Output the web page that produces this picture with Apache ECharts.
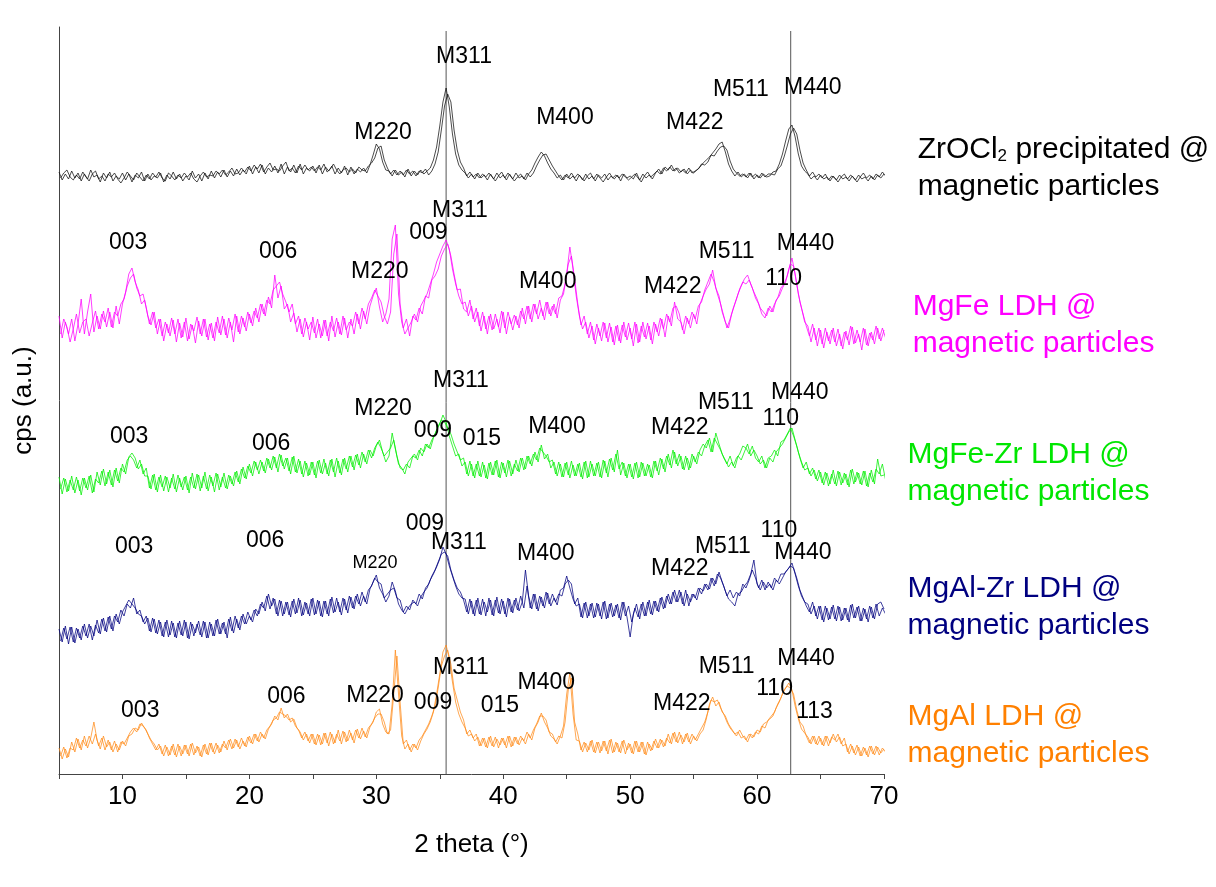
<!DOCTYPE html>
<html>
<head>
<meta charset="utf-8">
<script src="https://cdn.jsdelivr.net/npm/echarts@6/dist/echarts.min.js"></script>
<style>
html,body{margin:0;padding:0;background:#fff;}
#chart{width:1216px;height:887px;}
</style>
</head>
<body>
<div id="chart"></div>
<script>
// 2 theta grids: first scan 5 .. 70, second scan offset by half a step
const xStart = 5;
const xStartB = 5.125;
const xStep = 0.25;

// intensities (a.u., stacked offsets already included); two scans per sample
const zrocl2 = [
602,594,600,595, 603,596,601,593, 600,595,604,597, 599,592,601,596, 602,593,598,595,
601,594,600,592, 599,596,602,593, 600,594,598,596, 601,592,599,595, 602,595,600,593,
598,594,603,596, 600,593,601,595, 603,596,602,597, 604,597,603,598, 605,599,604,600,
608,600,607,601, 609,600,606,602, 608,601,610,600, 607,602,609,601, 610,600,606,603,
608,601,609,600, 607,603,608,600, 606,601,608,599, 607,600,605,602, 606,601,609,619,
630,625,612,604, 603,598,604,599, 602,597,605,598, 603,599,604,600, 603,606,614,627,
648,672,686,667, 640,620,609,604, 601,596,600,595, 601,596,599,594, 600,595,601,596,
599,594,600,595, 601,596,598,594, 600,604,611,617, 622,618,611,605, 601,596,599,594,
600,595,598,593, 599,594,600,595, 598,593,599,596, 600,594,598,595, 599,593,600,596,
598,595,601,594, 600,596,599,595, 601,605,600,607, 604,609,603,606, 602,605,600,604,
601,604,607,611, 614,617,621,625, 630,632,622,610, 603,598,602,597, 600,596,601,595,
599,596,600,597, 598,602,603,610, 620,633,645,649, 637,620,608,603, 600,595,598,594,
599,595,597,593, 598,594,599,595, 597,593,598,594, 599,595,597,593, 598,594,599,596,
600];
const zrocl2B = [
596,601,604,597, 594,599,595,602, 597,593,600,603, 595,598,593,600, 597,601,595,591,
596,602,598,594, 601,597,593,599, 595,601,597,602, 596,593,601,598, 594,599,596,601,
597,601,595,592, 598,602,597,599, 598,603,600,604, 599,602,606,600, 601,606,602,607,
603,609,605,610, 602,607,611,604, 605,603,608,612, 603,606,601,608, 604,609,604,607,
603,607,604,610, 602,605,610,604, 600,604,606,602, 605,601,607,604, 603,608,611,616,
626,628,614,606, 600,604,599,603, 599,604,600,603, 598,603,601,605, 599,603,610,622,
644,668,680,672, 644,624,612,606, 598,602,597,600, 596,600,597,601, 597,593,598,602,
596,601,597,593, 597,600,595,601, 597,601,608,614, 619,620,614,608, 603,598,594,599,
596,601,596,600, 597,593,598,601, 595,600,596,592, 597,601,596,599, 596,600,597,594,
597,600,596,592, 598,602,597,600, 603,600,606,603, 607,603,606,601, 604,601,606,601,
603,605,610,609, 612,619,618,623, 627,628,624,613, 605,601,598,600, 597,601,597,600,
596,601,597,600, 600,599,605,608, 617,628,640,646, 640,624,611,604, 598,602,597,600,
596,600,594,598, 596,592,597,600, 595,599,596,592, 597,601,596,599, 595,600,597,602,
598];

const mgfe = [
458,436,452,440, 455,433,450,475, 440,462,480,442, 458,445,463,447, 462,446,468,450,
470,482,500,506, 492,484,470,474, 458,449,462,440, 455,433,450,438, 454,432,451,437,
456,435,449,431, 453,438,455,434, 451,433,457,439, 455,436,452,432, 458,440,456,443,
460,448,466,452, 470,458,477,466, 499,476,488,465, 470,452,461,442, 455,437,452,434,
457,436,450,438, 454,433,458,437, 452,439,456,436, 455,440,460,445, 463,450,468,478,
486,467,452,460, 475,535,549,480, 452,440,446,452, 460,452,468,474, 480,490,500,512,
520,528,534,525, 505,490,478,470, 472,458,468,452, 462,443,458,440, 460,445,455,441,
462,440,457,444, 458,446,466,450, 468,452,470,455, 466,454,472,458, 470,456,474,480,
500,527,505,478, 458,445,452,436, 448,430,446,433, 451,432,447,429, 449,431,452,434,
446,428,450,432, 452,435,448,430, 450,438,455,437, 458,448,472,455, 452,440,456,446,
460,450,470,478, 485,490,504,486, 478,462,452,446, 460,470,480,488, 495,499,490,482,
475,466,462,458, 468,462,474,478, 486,492,505,516, 500,480,466,452, 448,432,446,428,
444,426,442,430, 446,428,440,425, 443,429,447,431, 440,424,445,428, 442,430,446,433,
444];
const mgfeB = [
440,455,447,432, 445,460,441,452, 455,438,451,463, 445,460,452,466, 447,462,458,470,
475,488,496,500, 486,478,480,466, 450,462,446,455, 438,452,441,456, 440,455,436,452,
433,450,443,457, 440,455,437,450, 436,452,441,458, 439,456,444,460, 442,458,447,462,
451,463,456,470, 460,474,470,484, 488,492,480,472, 462,470,450,458, 440,456,445,452,
441,455,436,454, 438,452,443,456, 440,458,444,452, 448,462,450,466, 455,470,476,484,
478,472,458,450, 462,520,540,470, 446,455,438,458, 454,466,460,478, 476,494,498,505,
518,525,530,518, 500,484,485,465, 462,474,455,466, 448,462,445,458, 444,460,447,463,
446,462,450,459, 449,463,455,468, 455,470,460,474, 458,472,460,468, 460,476,478,490,
510,518,495,470, 449,458,440,452, 434,450,438,452, 436,451,432,448, 433,449,437,451,
435,452,431,448, 437,451,434,452, 442,456,445,460, 452,466,468,460, 444,458,450,462,
455,468,472,484, 492,500,492,480, 470,458,446,455, 466,475,485,492, 490,494,486,476,
470,460,456,466, 462,470,476,486, 490,498,510,508, 490,472,460,448, 438,450,434,446,
430,446,433,444, 432,445,428,442, 434,448,430,444, 432,446,429,441, 434,448,435,446,
436];

const mgfeZr = [
297,280,295,283, 298,281,294,279, 296,284,299,282, 302,289,305,290, 304,287,306,291,
310,300,317,321, 316,305,310,298, 298,285,300,282, 299,283,297,286, 300,282,296,284,
298,281,301,285, 299,286,302,283, 297,282,300,287, 301,285,298,288, 303,290,307,295,
310,298,312,300, 312,301,315,304, 317,302,319,305, 316,300,318,301, 313,297,311,299,
312,296,314,300, 311,298,315,297, 313,299,316,302, 318,304,320,306, 320,310,324,318,
328,334,322,312, 318,341,325,310, 306,300,312,316, 320,314,326,322, 330,325,336,344,
350,359,352,338, 328,318,320,308, 312,298,310,296, 313,297,309,295, 312,299,314,296,
311,297,313,300, 314,302,316,305, 318,308,322,312, 329,315,320,306, 312,298,310,297,
312,296,309,298, 311,295,313,297, 310,298,312,296, 313,297,316,302, 324,299,311,296,
310,295,312,297, 311,298,309,296, 313,299,315,302, 320,306,322,308, 318,304,316,306,
318,310,324,330, 326,336,322,341, 330,320,314,307, 312,306,318,314, 322,330,318,324,
318,310,314,306, 316,312,322,326, 330,336,342,346, 334,322,312,304, 306,298,304,293,
302,289,301,290, 304,288,302,291, 300,287,305,292, 301,289,303,287, 304,290,315,298,
299];
const mgfeZrB = [
285,296,282,294, 284,297,283,296, 286,298,281,295, 291,303,288,302, 289,304,293,306,
302,314,318,314, 306,314,300,306, 286,299,284,297, 287,298,282,296, 285,299,287,297,
284,297,286,300, 283,298,285,299, 288,301,284,297, 286,299,290,302, 292,305,296,308,
301,313,304,314, 303,316,306,318, 306,320,308,316, 303,317,302,315, 300,313,298,312,
299,313,301,315, 300,314,302,316, 301,315,305,318, 307,319,309,322, 312,324,316,326,
332,326,318,322, 326,334,318,306, 304,310,306,318, 316,324,318,330, 326,334,340,348,
354,352,346,340, 330,322,314,316, 300,313,298,310, 298,312,296,311, 299,313,297,312,
301,314,298,310, 303,316,304,318, 310,320,314,326, 322,318,312,314, 300,312,297,311,
299,313,298,310, 297,312,296,313, 298,311,297,314, 301,315,304,320, 305,312,298,310,
297,311,296,312, 298,310,297,313, 303,316,305,318, 309,324,310,320, 305,318,304,320,
312,322,318,328, 334,322,336,330, 324,316,310,318, 308,316,320,328, 326,320,328,316,
312,318,306,316, 318,324,318,332, 334,340,346,338, 328,316,306,312, 300,306,295,304,
291,302,288,300, 290,303,289,301, 289,304,290,302, 290,303,288,301, 292,305,300,310,
294];

const mgalZr = [
145,132,148,130, 147,131,145,134, 150,136,148,138, 154,140,156,142, 158,143,160,150,
162,168,174,170, 166,160,158,150, 156,142,155,140, 152,137,154,139, 151,136,153,138,
152,135,150,141, 153,137,152,136, 150,138,155,140, 152,136,157,141, 155,144,160,150,
158,152,165,160, 172,163,180,168, 175,158,173,160, 172,157,175,161, 174,159,171,158,
176,160,173,157, 173,158,177,162, 172,159,175,161, 177,165,180,168, 178,170,185,192,
199,186,180,172, 178,192,183,170, 164,160,166,170, 172,168,177,182, 186,194,200,207,
215,227,220,208, 198,188,180,176, 175,160,173,158, 176,159,172,162, 174,158,177,160,
173,157,175,161, 176,163,172,204, 178,165,180,163, 177,166,181,168, 176,169,184,186,
198,186,175,168, 170,156,172,158, 171,157,170,155, 173,156,171,158, 170,154,172,157,
137,160,170,155, 172,158,174,159, 173,162,177,166, 180,170,184,172, 182,168,180,172,
180,174,186,183, 190,185,196,190, 202,192,183,175, 172,168,180,182, 188,192,200,214,
190,184,192,186, 190,184,194,190, 196,202,206,211, 200,188,178,172, 170,160,168,155,
168,152,166,155, 169,153,167,154, 166,152,170,156, 168,153,165,152, 167,155,170,172,
165];
const mgalZrB = [
133,146,135,147, 132,146,136,148, 138,150,134,149, 141,155,143,157, 145,158,152,164,
158,170,166,176, 160,164,152,158, 143,156,141,154, 138,152,137,153, 137,151,139,154,
136,152,138,150, 139,153,136,152, 138,154,140,151, 140,155,143,158, 146,158,150,162,
154,164,158,170, 166,178,165,176, 160,174,158,172, 159,173,160,176, 158,172,160,175,
159,174,158,173, 160,175,161,176, 162,176,164,178, 166,178,170,182, 172,184,188,196,
192,190,176,180, 184,186,176,174, 162,168,164,174, 170,180,175,186, 190,198,204,212,
220,222,218,204, 194,186,182,174, 162,175,160,174, 160,175,158,176, 159,174,161,175,
160,176,162,174, 164,178,166,188, 166,180,165,178, 168,182,170,180, 172,180,178,190,
194,190,170,176, 157,171,156,170, 156,171,158,172, 155,170,157,169, 156,172,158,168,
152,166,157,170, 158,172,160,173, 163,176,165,178, 170,182,172,184, 170,184,168,180,
176,186,180,190, 184,196,188,200, 196,188,178,184, 176,182,178,190, 186,194,204,196,
186,194,184,192, 186,196,192,200, 200,204,208,206, 196,184,176,168, 162,172,158,168,
154,168,154,167, 155,168,153,166, 154,169,156,167, 153,166,155,168, 156,170,158,166,
160];

const mgal = [
26,15,25,17, 32,22,35,24, 38,26,36,52, 34,25,38,27, 32,22,30,24,
33,28,38,40, 46,44,51,46, 40,34,30,24, 28,18,27,19, 30,17,28,20,
29,18,31,21, 27,17,30,19, 31,20,29,22, 33,24,35,26, 34,25,33,27,
38,30,40,32, 40,35,45,50, 58,54,66,56, 60,52,55,46, 42,34,40,31,
40,29,39,30, 41,28,40,31, 44,30,42,33, 41,31,45,35, 43,36,47,52,
62,65,50,42, 40,70,124,80, 38,25,30,22, 30,24,33,40, 45,52,62,80,
100,122,129,115, 92,72,60,52, 46,38,40,33, 37,28,36,26, 38,27,35,29,
36,26,38,28, 37,29,36,30, 40,34,46,52, 61,52,46,38, 35,30,38,48,
80,101,60,34, 33,22,31,24, 34,21,32,23, 33,20,35,22, 31,21,34,24,
30,20,33,22, 32,19,30,24, 35,26,34,28, 40,30,42,31, 39,32,41,30,
38,33,40,44, 55,70,77,68, 72,62,58,50, 45,40,42,36, 38,32,40,37,
44,42,50,52, 55,58,66,72, 80,86,91,84, 68,55,45,41, 37,30,38,29,
36,28,38,31, 40,32,37,28, 30,20,28,19, 27,18,26,17, 28,19,27,21,
25];
const mgalB = [
18,27,16,26, 24,36,26,34, 28,38,30,40, 28,36,24,34, 24,33,22,32,
30,36,42,46, 42,50,48,44, 36,30,24,30, 20,29,18,28, 19,30,18,29,
20,30,19,28, 18,29,20,31, 22,31,21,30, 26,34,25,35, 27,36,28,37,
31,40,33,42, 36,44,48,54, 56,62,60,58, 54,56,48,44, 36,42,33,40,
30,40,29,41, 31,42,30,40, 33,43,32,44, 34,44,36,46, 37,46,50,56,
60,60,52,40, 44,80,118,72, 30,34,24,30, 26,34,38,44, 50,58,68,86,
108,118,124,110, 86,74,62,54, 40,44,36,40, 28,36,27,37, 28,37,26,36,
29,38,27,37, 30,38,33,42, 36,44,50,58, 58,54,42,40, 32,38,36,52,
84,96,52,40, 24,32,22,33, 22,32,21,33, 23,34,21,32, 22,33,20,31,
21,33,22,32, 20,32,23,33, 26,35,27,36, 31,41,32,42, 30,40,32,40,
34,40,46,52, 62,74,72,74, 66,60,52,46, 42,38,44,38, 34,40,36,42,
40,48,46,54, 58,62,70,76, 84,88,86,80, 64,52,48,38, 31,38,30,38,
29,38,28,37, 34,40,30,36, 22,30,21,29, 18,27,19,28, 20,28,19,26,
22];

// reference lines (2 theta) for M311 and M440
const refLines = [35.5, 62.65];
const refTop = 743;

// reflection labels: [text, 2theta, height]
const lblZr = [['M311',36.91,717],['M220',30.53,641],['M400',44.86,656],['M422',55.09,651],['M511',58.72,684],['M440',64.39,686]];
const lblMgFe = [['003',10.45,531],['006',22.26,522],['M311',36.59,563],['009',34.1,541],['M220',30.28,502],['M400',43.5,492],['M422',53.35,487],['M511',57.6,522],['M440',63.82,530],['110',62.09,495]];
const lblMgFeZr = [['003',10.53,337],['006',21.71,330],['M220',30.53,365],['009',34.46,343],['M311',36.67,393],['015',38.32,335],['M400',44.23,347],['M422',53.91,346],['M511',57.54,371],['M440',63.36,381],['110',61.87,355]];
const lblMgAlZr = [['003',10.92,227],['006',21.24,233],['M220',29.9,211,'s'],['009',33.83,250],['M311',36.5,231],['M400',43.35,220],['M422',53.91,205],['M511',57.3,227],['110',61.72,243],['M440',63.61,221]];
const lblMgAl = [['003',11.4,63],['006',22.91,77],['M220',29.9,78],['009',34.47,71],['M311',36.67,106],['015',39.74,68],['M400',43.39,91],['M422',54.07,70],['M511',57.6,107],['M440',63.86,115],['110',61.38,85],['113',64.53,62]];

// sample names: [key, 2theta anchor, height]
const sampleNames = [
  ['zr', 72.65, 606],
  ['mgfe', 72.26, 449],
  ['mgfezr', 71.86, 301],
  ['mgalzr', 71.86, 167],
  ['mgal', 71.86, 39]
];

const FONT = "'Liberation Sans', Arial, sans-serif";
const colors = {zr:'#111111', mgfe:'#ff00ff', mgfezr:'#00ee00', mgalzr:'#000080', mgal:'#ff8c1a'};
const textColors = {zr:'#000000', mgfe:'#ff00ff', mgfezr:'#00e600', mgalzr:'#000080', mgal:'#ff8000'};

function toXY(arr, x0){ return arr.map((v,i)=>[x0 + i*xStep, v]); }

function traceSeries(arr, x0, color){
  return {type:'line', data: toXY(arr, x0), showSymbol:false, symbol:'none', silent:true, clip:true,
    lineStyle:{color:color, width:0.8, opacity:0.95}, z:3, animation:false};
}

function labelSeries(list){
  return {type:'scatter', symbol:'circle', symbolSize:0, itemStyle:{color:'#000', opacity:1}, clip:false, silent:true, z:5,
    data: list.map(d=>({value:[d[1], d[2]], name:d[0],
      label:{fontSize: d[3]==='s' ? 18 : 23}})),
    label:{show:true, position:'inside', formatter:'{b}', color:'#000', opacity:1, textBorderWidth:0,
      fontFamily:FONT, fontSize:23},
    animation:false};
}

const nameText = {
  zr: 'ZrOCl{sub|2} precipitated @\nmagnetic particles',
  mgfe: 'MgFe LDH @\nmagnetic particles',
  mgfezr: 'MgFe-Zr LDH @\nmagnetic particles',
  mgalzr: 'MgAl-Zr LDH @\nmagnetic particles',
  mgal: 'MgAl LDH @\nmagnetic particles'
};

const sampleSeries = {type:'scatter', symbol:'circle', symbolSize:0, itemStyle:{color:'#000', opacity:1}, clip:false, silent:true, z:5,
  data: sampleNames.map(s=>({value:[s[1], s[2]], name:s[0],
    label:{show:true, position:'right', distance:0, formatter: nameText[s[0]], opacity:1, textBorderWidth:0,
      color:textColors[s[0]], fontFamily:FONT, fontSize:30, lineHeight:37, align:'left',
      rich:{sub:{fontSize:17, fontFamily:FONT, color:textColors[s[0]], padding:[14,0,0,0], lineHeight:37}}}})),
  animation:false};

const refSeries = refLines.map(x=>({type:'line', data:[[x,0],[x,refTop]], showSymbol:false, symbol:'none', silent:true,
  lineStyle:{color:'#555', width:1}, z:2, animation:false}));

const chart = echarts.init(document.getElementById('chart'), null, {renderer:'canvas'});
chart.setOption({
  backgroundColor:'#ffffff',
  animation:false,
  grid:{left:59, right:332, top:27, bottom:113, containLabel:false},
  xAxis:{type:'value', min:5, max:70, interval:5,
    name:'2 theta (°)', nameLocation:'middle', nameGap:58,
    nameTextStyle:{fontFamily:FONT, fontSize:26, color:'#000'},
    axisLine:{show:true, lineStyle:{color:'#444', width:1}},
    axisTick:{show:true, inside:false, length:5, lineStyle:{color:'#444'}},
    axisLabel:{margin:10, fontFamily:FONT, fontSize:26, color:'#000',
      formatter:v=> (v % 10 === 0 ? String(v) : '')},
    splitLine:{show:false}},
  yAxis:{type:'value', min:0, max:747,
    name:'cps (a.u.)', nameLocation:'middle', nameGap:22, nameRotate:90,
    nameTextStyle:{fontFamily:FONT, fontSize:26, color:'#000'},
    axisLine:{show:true, lineStyle:{color:'#444', width:1}},
    axisTick:{show:false}, axisLabel:{show:false}, splitLine:{show:false}},
  series:[
    ...refSeries,
    traceSeries(zrocl2, xStart, colors.zr), traceSeries(zrocl2B, xStartB, colors.zr),
    traceSeries(mgfe, xStart, colors.mgfe), traceSeries(mgfeB, xStartB, colors.mgfe),
    traceSeries(mgfeZr, xStart, colors.mgfezr), traceSeries(mgfeZrB, xStartB, colors.mgfezr),
    traceSeries(mgalZr, xStart, colors.mgalzr), traceSeries(mgalZrB, xStartB, colors.mgalzr),
    traceSeries(mgal, xStart, colors.mgal), traceSeries(mgalB, xStartB, colors.mgal),
    labelSeries(lblZr), labelSeries(lblMgFe), labelSeries(lblMgFeZr), labelSeries(lblMgAlZr), labelSeries(lblMgAl),
    sampleSeries
  ]
});
const lens = [zrocl2, zrocl2B, mgfe, mgfeB, mgfeZr, mgfeZrB, mgalZr, mgalZrB, mgal, mgalB].map(a=>a.length);
if (lens.some(l=>l!==261)) { chart.setOption({title:{text:'len '+lens.join(','), left:300, top:0}}); }
</script>
</body>
</html>
